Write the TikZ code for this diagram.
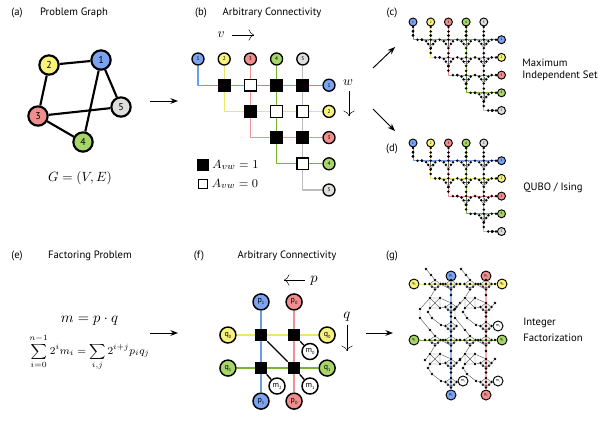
\documentclass[tikz,border=0pt]{standalone}
\usepackage{amsmath}
\usepackage{graphicx}
\usepackage[no-math]{fontspec}
\setmainfont{PT Sans}
\usetikzlibrary{positioning, arrows.meta}
\definecolor{fill1}{HTML}{7CA3F0}
\definecolor{fill2}{HTML}{F7F27C}
\definecolor{fill3}{HTML}{F08E8E}
\definecolor{fill4}{HTML}{A6D66A}
\definecolor{fill5}{HTML}{DEDEDC}
\definecolor{wire1}{HTML}{6C9BEE}
\definecolor{wire2}{HTML}{EDE766}
\definecolor{wire3}{HTML}{F29090}
\definecolor{wire4}{HTML}{76B82A}
\definecolor{wire5}{HTML}{BDBDBD}
\tikzset{
  paneltag/.style={font=\fontsize{8}{9}\selectfont, inner sep=0pt},
  paneltitle/.style={font=\fontsize{8}{9}\selectfont, inner sep=0pt, align=left},
  bigqubit/.style={circle, draw=black, line width=1.6pt, minimum size=14.5pt, inner sep=0pt, font=\fontsize{7.5}{8}\selectfont},
  midqubit/.style={circle, draw=black, line width=1pt, minimum size=9pt, inner sep=0pt, font=\fontsize{4}{4}\selectfont},
  smallqubit/.style={circle, draw=black, line width=0.7pt, minimum size=6pt, inner sep=0pt, font=\fontsize{2.5}{3}\selectfont},
  facqubit/.style={circle, draw=black, line width=1.1pt, minimum size=12pt, inner sep=0pt, font=\fontsize{6}{6}\selectfont},
  tinyfac/.style={circle, draw=black, line width=0.7pt, minimum size=7.5pt, inner sep=0pt, font=\fontsize{3}{3}\selectfont},
  coupleron/.style={rectangle, draw=black, fill=black, line width=0.9pt, minimum size=8.6pt, inner sep=0pt},
  coupleroff/.style={rectangle, draw=black, fill=white, line width=0.9pt, minimum size=8.6pt, inner sep=0pt},
  graphedge/.style={line width=1.6pt, draw=black},
  wire/.style={line width=0.9pt, line join=round},
  thinwire/.style={line width=0.65pt, line join=round},
  spin/.style={circle, fill=black, minimum size=2.1pt, inner sep=0pt},
  gadget/.style={line width=0.35pt, draw=black!60},
  arrow/.style={-{Stealth[length=2mm]}, line width=0.7pt, draw=black},
  axisarrow/.style={-{To[length=1.4mm]}, line width=0.35pt, draw=black},
}
\newcommand{\lowidx}[1]{\raisebox{-0.25em}{\scalebox{0.55}{#1}}}
% one crossing of a chip layout, drawn around its centre
\newcommand{\crossgadget}[3]{%
  \begin{scope}[shift={(#2,#3)}]
    \node[spin] (#1c) at (0,0) {};
    \node[spin] (#1t) at (0,-4.2) {};
    \node[spin] (#1h) at (-8.8,0) {};
    \node[spin] (#1l) at (-4.6,1.5) {};
    \node[spin] (#1r) at (4.6,1.5) {};
    \node[spin] (#1p) at (-2.5,4.2) {};
    \node[spin] (#1q) at (2.5,4.2) {};
    \node[spin] (#1s) at (0,8.4) {};
    \draw[gadget] (#1h) -- (#1l) -- (#1p) -- (#1s) -- (#1q) -- (#1r) -- (#1c) -- (#1l);
    \draw[gadget] (#1p) -- (#1q) (#1c) -- (#1s);
  \end{scope}}
% one cluster of the factoring layout
\newcommand{\stargadget}[3]{%
  \begin{scope}[shift={(#2,#3)}]
    \node[spin] (#1c) at (0,0) {};
    \node[spin] (#1l) at (-5.5,0) {};
    \node[spin] (#1r) at (5.5,0) {};
    \node[spin] (#1t) at (0,-4) {};
    \node[spin] (#1b) at (0,5.5) {};
    \node[spin] (#1p) at (-3,2.8) {};
    \node[spin] (#1q) at (3,2.8) {};
    \draw[gadget] (#1l) -- (#1t) -- (#1r) -- (#1b) -- (#1l) (#1l) -- (#1r);
    \draw[gadget] (#1p) -- (#1q);
  \end{scope}}
\newcommand{\boxgadget}[3]{%
  \begin{scope}[shift={(#2,#3)}]
    \node[spin] (#1a) at (-5,-5) {};
    \node[spin] (#1b) at (5,-5) {};
    \node[spin] (#1d) at (-5,5) {};
    \node[spin] (#1e) at (5,5) {};
    \draw[gadget] (#1a) -- (#1b) -- (#1e) -- (#1d) -- (#1a) -- (#1e) (#1b) -- (#1d);
  \end{scope}}
% qubit wires: one bend each, from the top row to the right column
\newcommand{\wirepanel}[6]{%
  \foreach \i in {1,...,5}{
    \pgfmathsetmacro{\cx}{#2+(\i-1)*#4}
    \pgfmathsetmacro{\ry}{#3+\i*#4}
    \pgfmathsetmacro{\rx}{#2+5*#4}
    \node[#5, fill=fill\i] (#1t\i) at (\cx,#3) {\i};
    \node[#5, fill=fill\i] (#1r\i) at (\rx,\ry) {\i};
    \coordinate (#1k\i) at (\cx,\ry);
    \draw[#6, draw=wire\i] (#1t\i) -- (#1k\i) -- (#1r\i);
  }}
% the chip layout of panels c and d
\newcommand{\chippanel}[2]{%
  \wirepanel{#1}{413}{#2}{17.7}{smallqubit}{thinwire}
  \foreach \c/\r in {2/1,3/1,4/1,5/1,3/2,4/2,5/2,4/3,5/3,5/4}{
    \pgfmathsetmacro{\cx}{413+(\c-1)*17.7}
    \pgfmathsetmacro{\ry}{#2+\r*17.7}
    \crossgadget{#1g\c\r}{\cx}{\ry}
  }
  \foreach \i in {1,...,5}{
    \pgfmathsetmacro{\cx}{413+(\i-1)*17.7}
    \pgfmathsetmacro{\ry}{#2+\i*17.7}
    \pgfmathsetmacro{\rx}{413+5*17.7}
    \foreach \s [count=\n] in {5,9.5,13.5}{
      \node[spin] (#1u\i\n) at (\cx,#2+\s) {};
    }
    \foreach \s [count=\n] in {4.5,8.8}{
      \node[spin] (#1v\i\n) at (\cx,\ry-\s) {};
      \node[spin] (#1w\i\n) at (\cx+\s,\ry) {};
      \node[spin] (#1x\i\n) at (\rx-\s-1,\ry) {};
    }
  }}

\begin{document}
\begin{tikzpicture}[x=0.75pt, y=-0.75pt]
  \useasboundingbox (0,0) rectangle (598,436);

  % Problem graph
  \node[paneltag] (taga) at (17,13) {(a)};
  \node[paneltitle] (titlea) at (74,13) {Problem Graph};
  \node[bigqubit, fill=fill1] (n1) at (101,60) {1};
  \node[bigqubit, fill=fill2] (n2) at (49,65) {2};
  \node[bigqubit, fill=fill3] (n3) at (38,116) {3};
  \node[bigqubit, fill=fill4] (n4) at (83,142) {4};
  \node[bigqubit, fill=fill5] (n5) at (121,107) {5};
  \draw[graphedge] (n1) -- (n2);
  \draw[graphedge] (n2) -- (n3);
  \draw[graphedge] (n3) -- (n4);
  \draw[graphedge] (n3) -- (n5);
  \draw[graphedge] (n1) -- (n4);
  \draw[graphedge] (n1) -- (n5);
  \node[inner sep=0pt] (eqg) at (80,178) {$G=(V,E)$};
  \coordinate (afrom) at (150,101);
  \coordinate (ato) at (178,101);
  \draw[arrow] (afrom) -- (ato);

  % Arbitrary connectivity
  \node[paneltag] (tagb) at (201,13) {(b)};
  \node[paneltitle] (titleb) at (272,13) {Arbitrary Connectivity};
  \wirepanel{b}{198}{59}{26.2}{midqubit}{wire}
  \foreach \c/\r/\kind in {2/1/coupleron,3/1/coupleroff,4/1/coupleron,5/1/coupleron,3/2/coupleron,4/2/coupleroff,5/2/coupleroff,4/3/coupleron,5/3/coupleron,5/4/coupleroff}{
    \node[\kind] (b\c\r) at (198+\c*26.2-26.2,59+\r*26.2) {};
  }
  \node[inner sep=0pt] (vlabel) at (221,35) {$v$};
  \coordinate (vfrom) at (232,35);
  \coordinate (vto) at (254,35);
  \draw[axisarrow] (vfrom) -- (vto);
  \node[inner sep=0pt] (wlabel) at (348,83) {$w$};
  \coordinate (wfrom) at (349,91);
  \coordinate (wto) at (349,116);
  \draw[axisarrow] (wfrom) -- (wto);
  \node[coupleron, minimum size=7.6pt] (keyon) at (203,165) {};
  \node[coupleroff, minimum size=7pt] (keyoff) at (203,184) {};
  \node[right=2.5pt of keyon, inner sep=0pt, font=\fontsize{9.5}{11}\selectfont] (keyona) {$A_{vw}=1$};
  \node[right=2.5pt of keyoff, inner sep=0pt, font=\fontsize{9.5}{11}\selectfont] (keyoffa) {$A_{vw}=0$};

  % Chip layouts
  \coordinate (cfrom) at (373,68);
  \coordinate (cto) at (395,47);
  \draw[arrow] (cfrom) -- (cto);
  \coordinate (dfrom) at (373,109);
  \coordinate (dto) at (395,131);
  \draw[arrow] (dfrom) -- (dto);
  \node[paneltag] (tagc) at (392,13) {(c)};
  \chippanel{c}{22}
  \node[paneltitle] (titlec) at (560,69.5) {Maximum\\Independent Set};
  \node[paneltag] (tagd) at (392,149) {(d)};
  \chippanel{d}{143}
  \node[paneltitle, anchor=west] (titled) at (523,188) {QUBO / Ising};

  % Factoring problem
  \node[paneltag] (tage) at (17,256) {(e)};
  \node[paneltitle] (titlee) at (90,256) {Factoring Problem};
  \node[inner sep=0pt, font=\fontsize{11}{12}\selectfont] (eqm) at (89.5,321) {$m=p\cdot q$};
  \node[inner sep=0pt, below=6pt of eqm, font=\fontsize{8}{10}\selectfont] (eqsum) {$\displaystyle\sum_{i=0}^{n-1}2^i m_i=\sum_{i,j}2^{i+j}p_iq_j$};
  \coordinate (efrom) at (150,333);
  \coordinate (eto) at (178,333);
  \draw[arrow] (efrom) -- (eto);

  % Factoring connectivity
  \node[paneltag] (tagf) at (199,256) {(f)};
  \node[paneltitle] (titlef) at (287,256) {Arbitrary Connectivity};
  \begin{scope}[on grid, node distance=24.8pt]
    \node[coupleron] (f10) at (261,335) {};
    \node[coupleron, right=of f10] (f00) {};
    \node[coupleron, below=of f10] (f11) {};
    \node[coupleron, below=of f00] (f01) {};
    \node[facqubit, fill=fill1, above=of f10] (fp1t) {p\lowidx{1}};
    \node[facqubit, fill=fill3, above=of f00] (fp0t) {p\lowidx{0}};
    \node[facqubit, fill=fill1, below=of f11] (fp1b) {p\lowidx{1}};
    \node[facqubit, fill=fill3, below=of f01] (fp0b) {p\lowidx{0}};
    \node[facqubit, fill=fill2, left=of f10] (fq0l) {q\lowidx{0}};
    \node[facqubit, fill=fill4, left=of f11] (fq1l) {q\lowidx{1}};
    \node[facqubit, fill=fill2, right=of f00] (fq0r) {q\lowidx{0}};
    \node[facqubit, fill=fill4, right=of f01] (fq1r) {q\lowidx{1}};
  \end{scope}
  \node[facqubit, fill=white] (fm0) at (310,351.5) {m\lowidx{0}};
  \node[facqubit, fill=white] (fm2) at (277,386) {m\lowidx{2}};
  \node[facqubit, fill=white] (fm1) at (310,386) {m\lowidx{1}};
  \draw[wire, draw=wire1, line width=1.2pt] (fp1t) -- (f10);
  \draw[wire, draw=wire1, line width=1.2pt] (f10) -- (f11);
  \draw[wire, draw=wire1, line width=1.2pt] (f11) -- (fp1b);
  \draw[wire, draw=wire3, line width=1.2pt] (fp0t) -- (f00);
  \draw[wire, draw=wire3, line width=1.2pt] (f00) -- (f01);
  \draw[wire, draw=wire3, line width=1.2pt] (f01) -- (fp0b);
  \draw[wire, draw=wire2, line width=1.2pt] (fq0l) -- (f10);
  \draw[wire, draw=wire2, line width=1.2pt] (f10) -- (f00);
  \draw[wire, draw=wire2, line width=1.2pt] (f00) -- (fq0r);
  \draw[wire, draw=wire4, line width=1.2pt] (fq1l) -- (f11);
  \draw[wire, draw=wire4, line width=1.2pt] (f11) -- (f01);
  \draw[wire, draw=wire4, line width=1.2pt] (f01) -- (fq1r);
  \draw[line width=1pt] (f10) -- (f01);
  \draw[line width=1pt] (f00) -- (fm0);
  \draw[line width=1pt] (f11) -- (fm2);
  \draw[line width=1pt] (f01) -- (fm1);
  \node[inner sep=0pt, font=\fontsize{11}{12}\selectfont] (plabel) at (314,281) {$p$};
  \coordinate (pfrom) at (305,280);
  \coordinate (pto) at (284,280);
  \draw[axisarrow] (pfrom) -- (pto);
  \node[inner sep=0pt, font=\fontsize{11}{12}\selectfont] (qlabel) at (347,317) {$q$};
  \coordinate (qfrom) at (347,325);
  \coordinate (qto) at (347,351);
  \draw[axisarrow] (qfrom) -- (qto);

  % Factoring layout
  \coordinate (ffrom) at (366,333);
  \coordinate (fto) at (393,333);
  \draw[arrow] (ffrom) -- (fto);
  \node[paneltag] (tagg) at (392,256) {(g)};
  \node[paneltitle, anchor=west] (titleg) at (523,323) {Integer};
  \node[paneltitle, below=4.5pt of titleg.south west, anchor=north west] (titlegb) {Factorization};
  \node[tinyfac, fill=fill1] (gp1t) at (451,276) {p\lowidx{1}};
  \node[tinyfac, fill=fill3] (gp0t) at (486,276) {p\lowidx{0}};
  \node[tinyfac, fill=fill1] (gp1b) at (451,395) {p\lowidx{1}};
  \node[tinyfac, fill=fill3] (gp0b) at (486,395) {p\lowidx{0}};
  \node[tinyfac, fill=fill2] (gq0l) at (414,284) {q\lowidx{0}};
  \node[tinyfac, fill=fill2] (gq0r) at (502,284) {q\lowidx{0}};
  \node[tinyfac, fill=fill4] (gq1l) at (414,340) {q\lowidx{1}};
  \node[tinyfac, fill=fill4] (gq1r) at (502,340) {q\lowidx{1}};
  \node[tinyfac, fill=white] (gm0) at (498,326) {m\lowidx{0}};
  \node[tinyfac, fill=white] (gm2) at (463,381) {m\lowidx{2}};
  \node[tinyfac, fill=white] (gm1) at (498,381) {m\lowidx{1}};
  \draw[line width=1.8pt, draw=wire1!70] (gp1t) -- (gp1b);
  \draw[line width=1.8pt, draw=wire3!70] (gp0t) -- (gp0b);
  \draw[thinwire, draw=wire2] (gq0l) -- (gq0r);
  \draw[thinwire, draw=wire4] (gq1l) -- (gq1r);
  \foreach \px in {451,486}{
    \foreach \qy in {284,340}{
      \pgfmathtruncatemacro{\qb}{\qy+23}
      \pgfmathtruncatemacro{\qc}{\qy+42}
      \pgfmathtruncatemacro{\pd}{\px-16}
      \pgfmathtruncatemacro{\qe}{\qy+19}
      \stargadget{g\px\qy a}{\px}{\qy}
      \stargadget{g\px\qy f}{\pd}{\qy}
      \stargadget{g\px\qy x}{\px}{\qb}
      \stargadget{g\px\qy y}{\px}{\qc}
      \boxgadget{g\px\qy e}{\pd}{\qe}
      % short chains between the clusters
      \node[spin] (g\px\qy m) at (\px-8,\qy) {};
      \node[spin] (g\px\qy n) at (\px+9,\qy) {};
      \node[spin] (g\px\qy g) at (\px-26,\qy) {};
      \node[spin] (g\px\qy o) at (\px,\qy+11) {};
      \node[spin] (g\px\qy s) at (\px,\qy+32.5) {};
      \node[spin] (g\px\qy h) at (\px-23,\qy+28) {};
      \node[spin] (g\px\qy i) at (\px-19,\qy+34) {};
      \node[spin] (g\px\qy j) at (\px-10,\qy+41) {};
      \node[spin] (g\px\qy k) at (\px+9,\qy+19) {};
      \draw[gadget] (g\px\qy fb) -- (g\px\qy ea);
      \draw[gadget] (g\px\qy fr) -- (g\px\qy ab);
      \draw[gadget] (g\px\qy eb) -- (g\px\qy xt);
      \draw[gadget] (g\px\qy ed) -- (g\px\qy h) -- (g\px\qy i) -- (g\px\qy j) -- (g\px\qy yl);
      \draw[gadget] (g\px\qy xr) -- (g\px\qy k);
      \draw[gadget] (g\px\qy ee) -- (g\px\qy xl);
    }
  }
  \foreach \px in {451,486}{
    \node[spin] (gtop\px a) at (\px-25,269) {};
    \node[spin] (gtop\px b) at (\px-20,275) {};
    \draw[gadget] (gtop\px a) -- (gtop\px b) -- (g\px284ft);
    \node[spin] (gleft\px a) at (\px-31,309) {};
    \node[spin] (gleft\px b) at (\px-31,318) {};
    \node[spin] (gleft\px c) at (\px-21,330) {};
    \draw[gadget] (g\px284ea) -- (gleft\px a) -- (gleft\px b) -- (gleft\px c) -- (g\px340ft);
    \node[spin] (gend\px) at (\px-26,360) {};
    \draw[gadget] (gend\px) -- (g\px340ea);
  }
  \draw[gadget] (g486284yr) -- (gm0);
  \draw[gadget] (g451340yr) -- (gm2);
  \draw[gadget] (g486340yr) -- (gm1);
\end{tikzpicture}
\end{document}
